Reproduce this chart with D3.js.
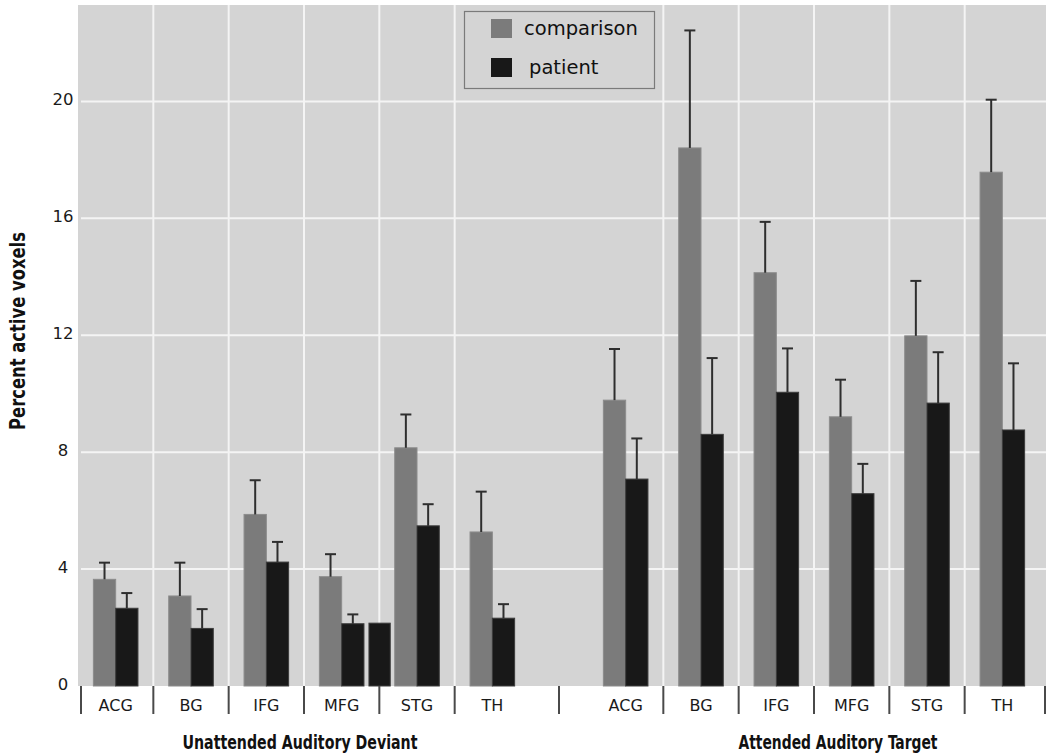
<!DOCTYPE html>
<html>
<head>
<meta charset="utf-8">
<script src="https://cdn.jsdelivr.net/npm/d3@7"></script>
<style>
  html, body { margin: 0; padding: 0; background: #ffffff; }
  svg { display: block; }
</style>
</head>
<body>
<svg id="chart" width="1050" height="755"></svg>
<script>
// ---- data ----
const categories = ["ACG", "BG", "IFG", "MFG", "STG", "TH"];
const groups = ["Unattended Auditory Deviant", "Attended Auditory Target"];
const seriesNames = ["comparison", "patient"];

const comparisonUnattended    = [3.65, 3.08, 5.87, 3.74, 8.15, 5.27];
const comparisonUnattendedErr = [0.57, 1.14, 1.17, 0.77, 1.14, 1.38];
const patientUnattended       = [2.66, 1.97, 4.24, 2.13, 5.48, 2.32];
const patientUnattendedErr    = [0.52, 0.66, 0.69, 0.32, 0.74, 0.48];

const comparisonAttended      = [9.78, 18.41, 14.14, 9.21, 11.98, 17.58];
const comparisonAttendedErr   = [1.75, 4.02, 1.74, 1.27, 1.88, 2.48];
const patientAttended         = [7.08, 8.61, 10.05, 6.58, 9.68, 8.76];
const patientAttendedErr      = [1.39, 2.61, 1.50, 1.02, 1.74, 2.28];

// stray extra patient bar drawn in the MFG (unattended) slot, no error bar
const extraBar = { group: "Unattended Auditory Deviant", category: "MFG", value: 2.15 };

const yTicks = [0, 4, 8, 12, 16, 20];
const yMax = 23.3;

// ---- build records ----
const dataByGroup = {
  "Unattended Auditory Deviant": { comparison: comparisonUnattended, comparisonErr: comparisonUnattendedErr,
                                   patient: patientUnattended, patientErr: patientUnattendedErr },
  "Attended Auditory Target":    { comparison: comparisonAttended, comparisonErr: comparisonAttendedErr,
                                   patient: patientAttended, patientErr: patientAttendedErr }
};
const records = [];
groups.forEach(g => {
  categories.forEach((c, i) => {
    seriesNames.forEach(s => {
      records.push({ group: g, category: c, series: s,
                     value: dataByGroup[g][s][i], err: dataByGroup[g][s + "Err"][i] });
    });
  });
});

// ---- layout ----
const svg = d3.select("#chart");
const plot = { left: 78, right: 1046, top: 5, bottom: 686 };
const colors = { comparison: "#7b7b7b", patient: "#181818" };
const strokes = { comparison: "#8c8c8c", patient: "#3c3c3c" };

const y = d3.scaleLinear().domain([0, yMax]).range([plot.bottom, plot.top]);
const xGroup = d3.scaleBand().domain(groups).range([plot.left, 1040]).paddingInner(0.1137).paddingOuter(0);
const xCat = d3.scaleBand().domain(categories).range([0, xGroup.bandwidth()]).padding(0);
const xSeries = d3.scaleBand().domain(seriesNames).range([0, xCat.bandwidth()]).paddingInner(0).paddingOuter(0.69);

// plot background
svg.append("rect")
  .attr("x", plot.left).attr("y", plot.top)
  .attr("width", plot.right - plot.left).attr("height", plot.bottom - plot.top)
  .attr("fill", "#d4d4d4");

// horizontal gridlines
svg.append("g").selectAll("line")
  .data(yTicks.filter(t => t > 0))
  .join("line")
  .attr("x1", plot.left + 3).attr("x2", plot.right)
  .attr("y1", d => y(d)).attr("y2", d => y(d))
  .attr("stroke", "#f4f4f4").attr("stroke-width", 2);

// vertical gridlines (between categories inside each group)
const innerBounds = [];
groups.forEach(g => {
  categories.slice(1).forEach(c => innerBounds.push(xGroup(g) + xCat(c)));
});
svg.append("g").selectAll("line")
  .data(innerBounds)
  .join("line")
  .attr("x1", d => d).attr("x2", d => d)
  .attr("y1", plot.top).attr("y2", plot.bottom)
  .attr("stroke", "#f4f4f4").attr("stroke-width", 2);

// bars
const barX = d => xGroup(d.group) + xCat(d.category) + xSeries(d.series);
svg.append("g").selectAll("rect")
  .data(records)
  .join("rect")
  .attr("x", barX)
  .attr("width", xSeries.bandwidth())
  .attr("y", d => y(d.value))
  .attr("height", d => y(0) - y(d.value))
  .attr("fill", d => colors[d.series])
  .attr("stroke", d => strokes[d.series])
  .attr("stroke-width", 1);

// extra bar
svg.append("rect")
  .attr("x", xGroup(extraBar.group) + xCat(extraBar.category) + xSeries("patient") + xSeries.step() + 5)
  .attr("width", xSeries.bandwidth() - 1)
  .attr("y", y(extraBar.value))
  .attr("height", y(0) - y(extraBar.value))
  .attr("fill", colors.patient)
  .attr("stroke", strokes.patient)
  .attr("stroke-width", 1);

// error bars (upper only)
const eb = svg.append("g").attr("stroke", "#2e2e2e").attr("stroke-width", 2);
const ebX = d => barX(d) + xSeries.bandwidth() / 2;
eb.selectAll("line.v").data(records).join("line").attr("class", "v")
  .attr("x1", ebX).attr("x2", ebX)
  .attr("y1", d => y(d.value)).attr("y2", d => y(d.value + d.err));
eb.selectAll("line.c").data(records).join("line").attr("class", "c")
  .attr("x1", d => ebX(d) - 5.5).attr("x2", d => ebX(d) + 5.5)
  .attr("y1", d => y(d.value + d.err)).attr("y2", d => y(d.value + d.err));

// y axis labels
const yAxis = d3.axisLeft(y).tickValues(yTicks).tickSize(0).tickPadding(0);
const yg = svg.append("g").attr("transform", `translate(${plot.left},0)`).call(yAxis);
yg.select(".domain").remove();
yg.selectAll("text")
  .attr("x", -15).attr("text-anchor", "middle").attr("dy", "0.2em")
  .attr("font-family", "DejaVu Sans, sans-serif").attr("font-size", 16.5).attr("fill", "#1a1a1a");

// x tick marks under axis
const xTickPos = [plot.left + 3];
groups.forEach((g, gi) => {
  categories.slice(1).forEach(c => xTickPos.push(xGroup(g) + xCat(c)));
  if (gi === 0) xTickPos.push((xGroup(groups[0]) + xGroup.bandwidth() + xGroup(groups[1])) / 2);
});
xTickPos.push(plot.right - 1);
svg.append("g").selectAll("line")
  .data(xTickPos)
  .join("line")
  .attr("x1", d => d).attr("x2", d => d)
  .attr("y1", plot.bottom).attr("y2", plot.bottom + 28)
  .attr("stroke", "#4a4a4a").attr("stroke-width", 2);

// category labels
groups.forEach(g => {
  const xa = d3.axisBottom(xCat).tickSize(0).tickPadding(0);
  const gg = svg.append("g").attr("transform", `translate(${xGroup(g)},${plot.bottom})`).call(xa);
  gg.select(".domain").remove();
  gg.selectAll("text")
    .attr("y", 19).attr("dy", "0.35em")
    .attr("font-family", "DejaVu Sans, sans-serif").attr("font-size", 16).attr("fill", "#1a1a1a");
});

// group labels
const groupLabelShift = { "Unattended Auditory Deviant": -4, "Attended Auditory Target": 24 };
const groupLabelWidth = { "Unattended Auditory Deviant": 235, "Attended Auditory Target": 199 };
svg.append("g").selectAll("text")
  .data(groups)
  .join("text")
  .attr("x", d => xGroup(d) + xGroup.bandwidth() / 2 + groupLabelShift[d])
  .attr("y", 749)
  .attr("text-anchor", "middle")
  .attr("font-family", "Liberation Sans Narrow, DejaVu Sans Condensed, DejaVu Sans, sans-serif")
  .attr("font-weight", "bold").attr("font-size", 20).attr("fill", "#111")
  .attr("textLength", d => groupLabelWidth[d]).attr("lengthAdjust", "spacingAndGlyphs")
  .text(d => d);

// y title
svg.append("text")
  .attr("transform", "translate(25,331) rotate(-90)")
  .attr("text-anchor", "middle")
  .attr("font-family", "Liberation Sans Narrow, DejaVu Sans Condensed, DejaVu Sans, sans-serif")
  .attr("font-weight", "bold").attr("font-size", 21).attr("fill", "#111")
  .attr("textLength", 198).attr("lengthAdjust", "spacingAndGlyphs")
  .text("Percent active voxels");

// legend
const legend = svg.append("g");
legend.append("rect")
  .attr("x", 464.5).attr("y", 11.5).attr("width", 190).attr("height", 77)
  .attr("fill", "#d4d4d4").attr("stroke", "#7a7a7a").attr("stroke-width", 1.2);
const ly = d3.scalePoint().domain(seriesNames).range([28, 67]);
legend.selectAll("rect.sw").data(seriesNames).join("rect").attr("class", "sw")
  .attr("x", 491).attr("y", d => ly(d) - 9).attr("width", 21).attr("height", 19)
  .attr("fill", d => colors[d]);
legend.selectAll("text").data(seriesNames).join("text")
  .attr("x", (d, i) => i === 0 ? 524 : 529)
  .attr("y", d => ly(d)).attr("dy", "0.35em")
  .attr("font-family", "DejaVu Sans, sans-serif").attr("font-size", 19.5).attr("fill", "#111")
  .text(d => d);
</script>
</body>
</html>
